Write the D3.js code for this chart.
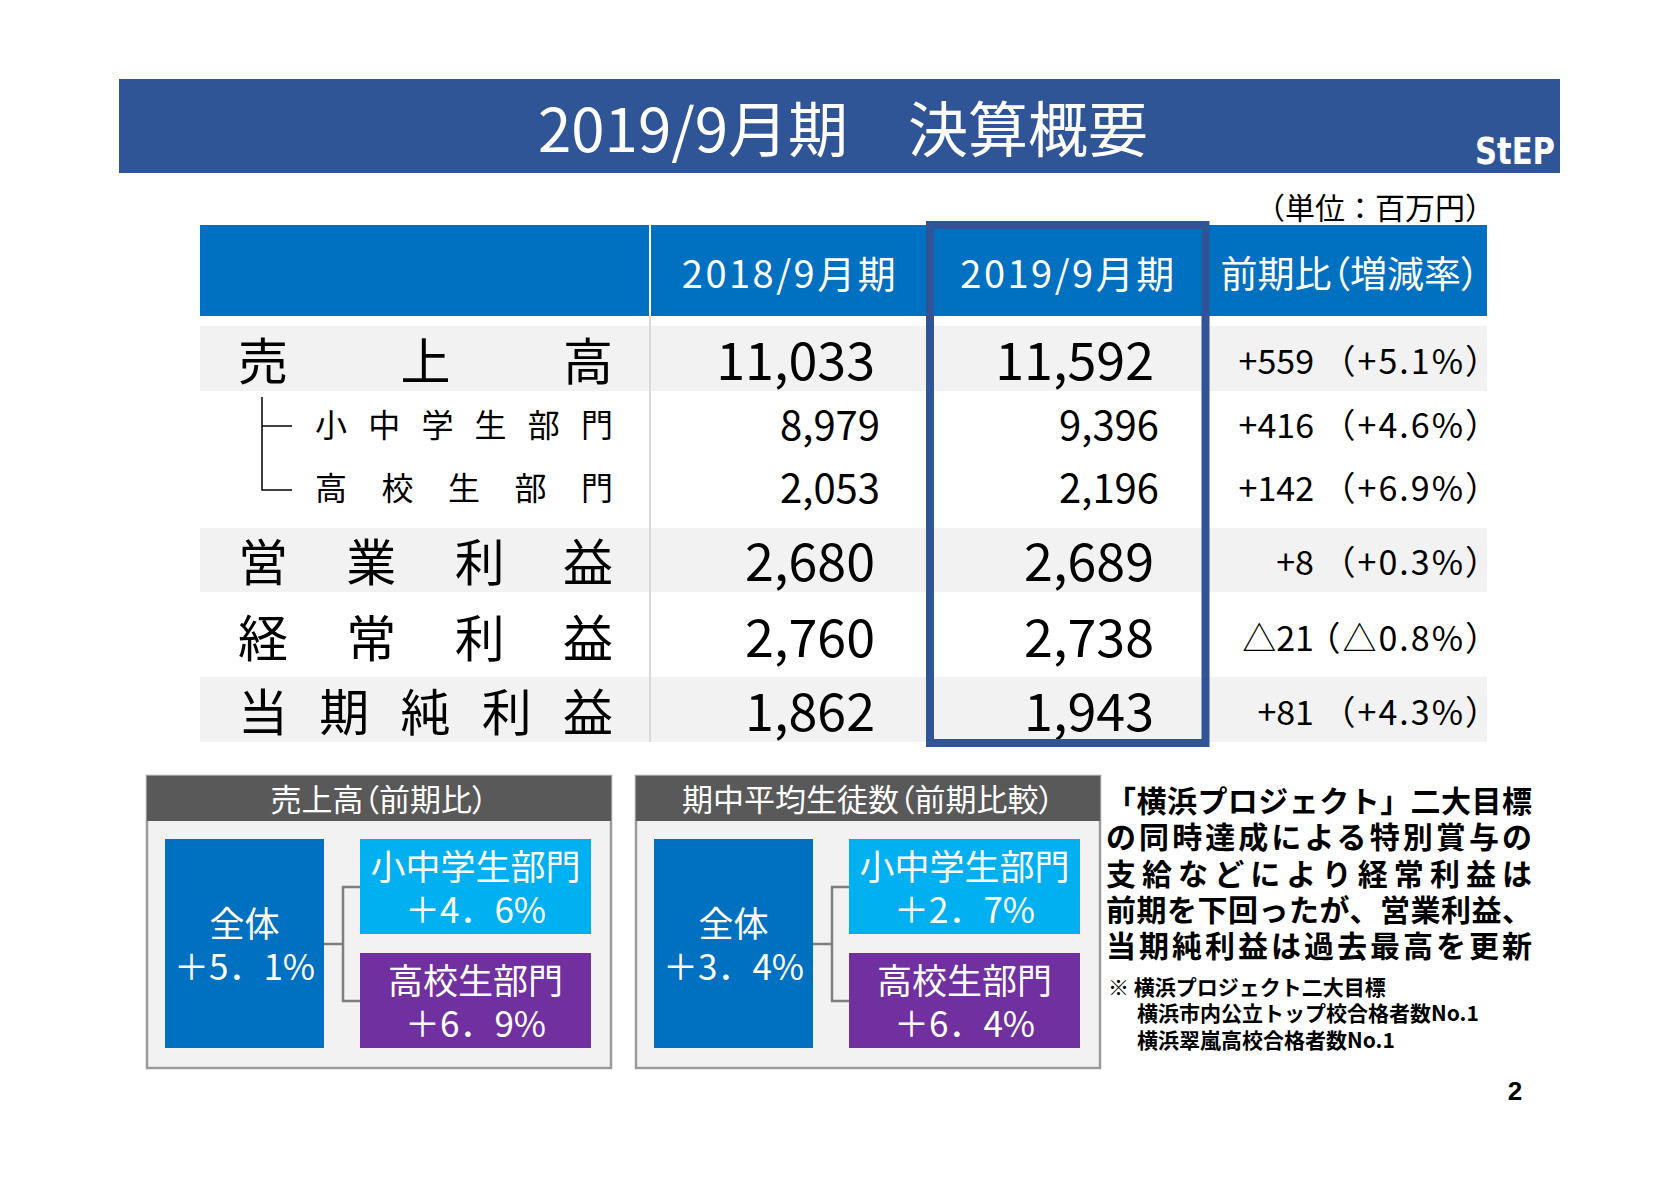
<!DOCTYPE html>
<html>
<head>
<meta charset="utf-8">
<script src="https://cdn.jsdelivr.net/npm/d3@7"></script>
<style>
  body { margin: 0; background: #fff; }
  svg { display: block; }
  .palt { font-feature-settings: "palt"; }
</style>
</head>
<body>
<script>
// ---- data ----
const title = "2019/9月期　決算概要";
const unitLabel = "（単位：百万円）";
const columns = ["2018/9月期", "2019/9月期", "前期比（増減率）"];
const rowLabels = ["売上高", "小中学生部門", "高校生部門", "営業利益", "経常利益", "当期純利益"];
const rowLevel = [0, 1, 1, 0, 0, 0];          // 1 = sub-row of 売上高
const fy2018 = [11033, 8979, 2053, 2680, 2760, 1862];
const fy2019 = [11592, 9396, 2196, 2689, 2738, 1943];
const diffLabels = ["+559", "+416", "+142", "+8", "△21", "+81"];
const rateLabels = ["（+5.1%）", "（+4.6%）", "（+6.9%）", "（+0.3%）", "（△0.8%）", "（+4.3%）"];

const panelTitles = ["売上高（前期比）", "期中平均生徒数（前期比較）"];
const segments = ["全体", "小中学生部門", "高校生部門"];
const salesGrowth = ["＋5．1%", "＋4．6%", "＋6．9%"];
const studentGrowth = ["＋3．4%", "＋2．7%", "＋6．4%"];

const commentLines = [
  "「横浜プロジェクト」二大目標",
  "の同時達成による特別賞与の",
  "支給などにより経常利益は",
  "前期を下回ったが、営業利益、",
  "当期純利益は過去最高を更新"
];
const noteLines = ["※ 横浜プロジェクト二大目標", "横浜市内公立トップ校合格者数No.1", "横浜翠嵐高校合格者数No.1"];
const pageNumber = "2";

// ---- layout ----
const W = 1680, H = 1184;
const JP = "'Noto Sans CJK JP', 'Noto Sans', sans-serif";
const navy = "#2F5597", blue = "#0070C0", grey = "#F2F2F2";
const segColors = ["#0070C0", "#00B0F0", "#7030A0"];

const svg = d3.select("body").append("svg")
    .attr("width", W)
    .attr("height", H)
    .style("font-family", JP);

// text helper: cy = vertical centre of the ink
function label(g, x, cy, s, fs, anchor, opts) {
  opts = opts || {};
  return g.append("text")
      .attr("x", x)
      .attr("y", cy + 0.37 * fs)
      .attr("font-size", fs)
      .attr("text-anchor", anchor || "start")
      .attr("font-weight", opts.weight || 400)
      .attr("fill", opts.fill || "#000")
      .text(s);
}

// several lines in one text element (one tspan per line)
function block(g, x, cy0, pitch, lines, fs, anchor, opts) {
  opts = opts || {};
  const t = g.append("text")
      .attr("font-size", fs)
      .attr("text-anchor", anchor || "start")
      .attr("font-weight", opts.weight || 400)
      .attr("fill", opts.fill || "#000");
  lines.forEach((s, i) => {
    t.append("tspan")
        .attr("x", Array.isArray(x) ? x[i] : x)
        .attr("y", cy0 + i * pitch + 0.37 * fs)
        .text(s);
  });
  return t;
}

// ---- banner ----
svg.append("rect")
    .attr("x", 119).attr("y", 79)
    .attr("width", 1441).attr("height", 94)
    .attr("fill", navy);
label(svg, 843, 130, title, 60, "middle", { fill: "#fff" });
svg.append("text")
    .attr("x", 1475).attr("y", 164)
    .attr("font-family", "'DejaVu Sans', sans-serif")
    .attr("font-weight", 700)
    .attr("font-size", 37)
    .attr("fill", "#fff")
    .attr("textLength", 80)
    .attr("lengthAdjust", "spacingAndGlyphs")
    .text("StEP");

label(svg, 1495, 208, unitLabel, 30, "end");

// ---- table ----
const colEdges = [200, 650, 930, 1207, 1487];
const rowTop = [326, 391, 458, 528, 592, 677];
const rowBottom = [391, 458, 528, 592, 677, 742];
const rowMid = [361, 425, 488, 562, 638, 712];
const shaded = [1, 0, 0, 1, 0, 1];

const y = d3.scaleOrdinal().domain(d3.range(rowLabels.length)).range(rowMid);
const fmt = d3.format(",");

const table = svg.append("g");

// header row
table.append("rect")
    .attr("x", colEdges[0]).attr("y", 225)
    .attr("width", colEdges[4] - colEdges[0]).attr("height", 91)
    .attr("fill", blue);
table.append("line")
    .attr("x1", colEdges[1]).attr("x2", colEdges[1])
    .attr("y1", 225).attr("y2", 316)
    .attr("stroke", "#fff").attr("stroke-width", 2);
columns.forEach((c, i) => {
  const cx = (colEdges[i + 1] + colEdges[i + 2]) / 2 + (i < 2 ? 0 : 3);
  const t = label(table, cx, 274, c, i < 2 ? 38 : 37, "middle", { fill: "#fff" });
  if (i < 2) t.attr("letter-spacing", 2.5);
  else t.attr("class", "palt");
});

// body row backgrounds
table.selectAll("rect.row")
    .data(rowLabels.map((d, i) => i).filter(i => shaded[i]))
    .enter().append("rect")
    .attr("class", "row")
    .attr("x", colEdges[0])
    .attr("y", i => rowTop[i])
    .attr("width", colEdges[4] - colEdges[0])
    .attr("height", i => rowBottom[i] - rowTop[i])
    .attr("fill", grey);

table.append("line")
    .attr("x1", colEdges[1]).attr("x2", colEdges[1])
    .attr("y1", 316).attr("y2", 742)
    .attr("stroke", "#D9D9D9").attr("stroke-width", 2);

// row labels, characters spread across the cell
rowLabels.forEach((name, i) => {
  const chars = Array.from(name);
  const fs = rowLevel[i] ? 32 : 50;
  const x0 = rowLevel[i] ? 315 : 238, x1 = 613;
  const step = (x1 - x0 - fs) / (chars.length - 1);
  chars.forEach((ch, k) => label(table, x0 + k * step, y(i), ch, fs, "start"));
});

// tree lines for sub-rows
const tree = d3.path();
tree.moveTo(262, 397); tree.lineTo(262, 490); tree.lineTo(292, 490);
tree.moveTo(262, 426); tree.lineTo(292, 426);
table.append("path")
    .attr("d", tree.toString())
    .attr("fill", "none")
    .attr("stroke", "#000")
    .attr("stroke-width", 1.5);

// values
rowLabels.forEach((name, i) => {
  const fs = rowLevel[i] ? 40 : 52;
  const shift = rowLevel[i] ? 5 : 0;
  label(table, 875 + shift, y(i), fmt(fy2018[i]), fs, "end");
  label(table, 1154 + shift, y(i), fmt(fy2019[i]), fs, "end");
  label(table, 1314, y(i), diffLabels[i], 34, "end");
  label(table, 1501, y(i), rateLabels[i], 34, "end")
      .attr("letter-spacing", 2);
});

// highlight frame around current period
table.append("rect")
    .attr("x", 930).attr("y", 225)
    .attr("width", 275.5).attr("height", 518)
    .attr("fill", "none")
    .attr("stroke", navy)
    .attr("stroke-width", 8);

// ---- comparison panels ----
[salesGrowth, studentGrowth].forEach((vals, p) => {
  const px = 147 + p * 489, py = 776;
  const g = svg.append("g").attr("transform", `translate(${px},${py})`);

  g.append("rect")
      .attr("width", 464).attr("height", 292)
      .attr("fill", grey)
      .attr("stroke", "#9A9A9A").attr("stroke-width", 2.5);
  g.append("rect")
      .attr("width", 464).attr("height", 45)
      .attr("fill", "#595959");
  label(g, 232, 24, panelTitles[p], 31, "middle", { fill: "#fff" })
      .attr("class", "palt");

  // connector
  const c = d3.path();
  c.moveTo(177, 168); c.lineTo(196, 168);
  c.moveTo(213, 111); c.lineTo(196, 111); c.lineTo(196, 225); c.lineTo(213, 225);
  g.append("path")
      .attr("d", c.toString())
      .attr("fill", "none")
      .attr("stroke", "#7F7F7F")
      .attr("stroke-width", 2.5);

  const boxes = [
    { x: 18, y: 63, w: 159, h: 209 },
    { x: 213, y: 63, w: 231, h: 95 },
    { x: 213, y: 177, w: 231, h: 95 }
  ];
  boxes.forEach((b, k) => {
    g.append("rect")
        .attr("x", b.x).attr("y", b.y)
        .attr("width", b.w).attr("height", b.h)
        .attr("fill", segColors[k]);
    const cx = b.x + b.w / 2, cy = b.y + b.h / 2;
    block(g, cx, cy - 19, 43, [segments[k], vals[k]], 35, "middle", { fill: "#fff" });
  });
});

// ---- comment block (each line spread to the same width) ----
const note = svg.append("g");
const comment = block(note, 1106, 801, 36.3, commentLines, 30, "start", { weight: 700 });
comment.selectAll("tspan").each(function(s) {
  const n = Array.from(this.textContent).length;
  const w = this.getComputedTextLength();
  d3.select(this).attr("letter-spacing", (426 - w) / (n - 1));
});
block(note, [1108, 1137, 1137], 987, 26.5, noteLines, 21, "start", { weight: 700 });

svg.append("text")
    .attr("x", 1515).attr("y", 1100)
    .attr("text-anchor", "middle")
    .attr("font-family", "'Liberation Sans', Arial, sans-serif")
    .attr("font-weight", 700)
    .attr("font-size", 26)
    .text(pageNumber);
</script>
</body>
</html>
